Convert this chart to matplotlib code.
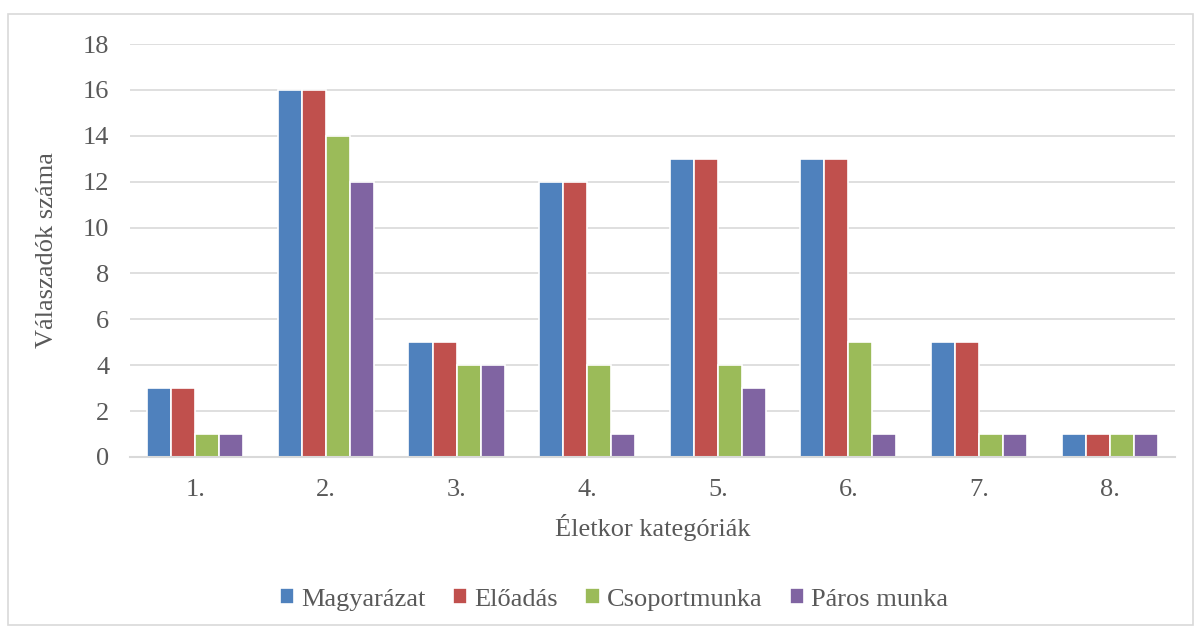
import matplotlib.pyplot as plt
import numpy as np

plt.rcParams['font.family'] = ['Liberation Serif', 'DejaVu Serif']

# Adatok
kategoriak = ['1.', '2.', '3.', '4.', '5.', '6.', '7.', '8.']
magyarazat = [3, 16, 5, 12, 13, 13, 5, 1]
eloadas = [3, 16, 5, 12, 13, 13, 5, 1]
csoportmunka = [1, 14, 4, 4, 4, 5, 1, 1]
paros_munka = [1, 12, 4, 1, 3, 1, 1, 1]

sorozatok = ['Magyarázat', 'Előadás', 'Csoportmunka', 'Páros munka']
szinek = ['#4F81BD', '#C0504D', '#9BBB59', '#8064A2']
ertekek = [magyarazat, eloadas, csoportmunka, paros_munka]

szoveg_szin = '#595959'
betumeret = 19

fig = plt.figure(figsize=(11.97, 6.28), dpi=100)
ax = fig.add_axes([0.1086, 0.2723, 0.873, 0.6576])

x = np.arange(len(kategoriak))
szelesseg = 0.184
for i, (nev, szin, adat) in enumerate(zip(sorozatok, szinek, ertekek)):
    ax.bar(x + (i - 1.5) * szelesseg, adat, szelesseg, color=szin,
           edgecolor='white', linewidth=1.2, label=nev, zorder=3)

ax.set_xlim(-0.5, len(kategoriak) - 0.5)
ax.set_ylim(0, 18)
ax.set_yticks(range(0, 19, 2))
ax.set_xticks(x)
ax.set_xticklabels(kategoriak)
ax.grid(axis='y', color='#D9D9D9', linewidth=1.2, zorder=0)
ax.tick_params(length=0, labelsize=betumeret, colors=szoveg_szin)
ax.tick_params(axis='y', pad=15)
ax.tick_params(axis='x', pad=16)
for s in ['top', 'right', 'left']:
    ax.spines[s].set_visible(False)
ax.spines['bottom'].set_color('#D9D9D9')
ax.spines['bottom'].set_linewidth(1.5)
ax.spines['bottom'].set_zorder(4)

ax.set_xlabel('Életkor kategóriák', fontsize=betumeret, color=szoveg_szin, labelpad=9)
ax.set_ylabel('Válaszadók száma', fontsize=betumeret, color=szoveg_szin, labelpad=18)

leg = ax.legend(loc='center', bbox_to_anchor=(0.463, -0.345), ncol=4, frameon=False,
                fontsize=betumeret, handlelength=0.55, handleheight=0.55,
                handletextpad=0.25, columnspacing=1.05)
for t in leg.get_texts():
    t.set_color(szoveg_szin)

# Keret a diagram körül
keret = plt.Rectangle((0.007, 0.005), 0.99, 0.972, transform=fig.transFigure,
                      fill=False, edgecolor='#D9D9D9', linewidth=1.2)
fig.patches.append(keret)

plt.savefig('out.png', dpi=100)
